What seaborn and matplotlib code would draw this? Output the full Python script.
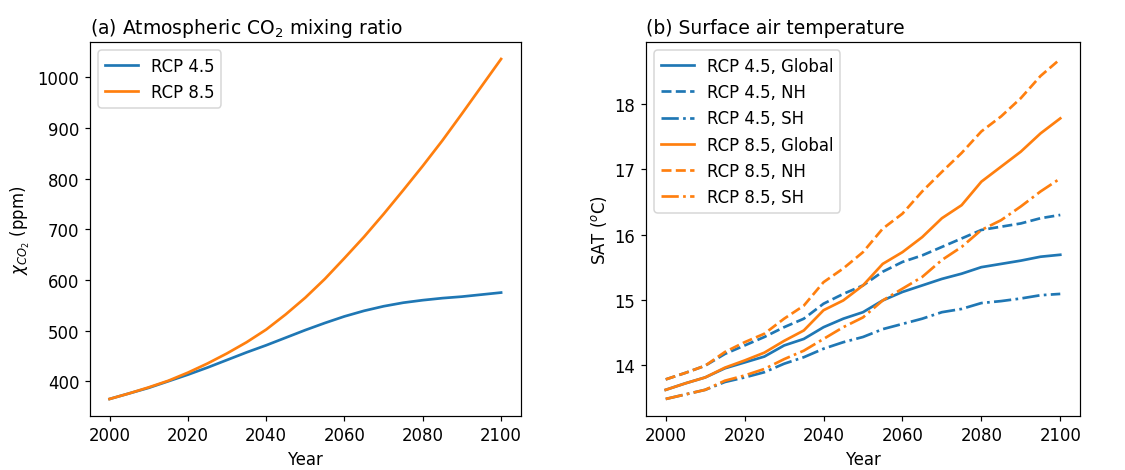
import matplotlib
matplotlib.use("Agg")
import matplotlib.pyplot as plt
import seaborn as sns

# Years sampled every 5 years
years = list(range(2000, 2101, 5))

# Atmospheric CO2 mixing ratio (ppm)
co2_rcp45 = [365, 376, 387, 400, 413, 427, 442, 457, 471, 486, 501,
             515, 528, 539, 548, 555, 560, 564, 567, 571, 575]
co2_rcp85 = [365, 376, 388, 401, 417, 435, 455, 477, 502, 532, 565,
             602, 643, 685, 730, 777, 825, 875, 928, 982, 1036]

# Surface air temperature (deg C)
sat45_global = [13.62, 13.72, 13.81, 13.95, 14.04, 14.13, 14.30, 14.40, 14.58, 14.71, 14.81,
                14.99, 15.12, 15.22, 15.32, 15.40, 15.50, 15.55, 15.60, 15.66, 15.69]
sat45_nh = [13.78, 13.88, 13.99, 14.17, 14.30, 14.43, 14.58, 14.71, 14.94, 15.09, 15.22,
            15.43, 15.58, 15.68, 15.81, 15.94, 16.07, 16.12, 16.17, 16.25, 16.30]
sat45_sh = [13.48, 13.55, 13.62, 13.74, 13.81, 13.89, 14.02, 14.12, 14.25, 14.35, 14.43,
            14.55, 14.63, 14.71, 14.81, 14.86, 14.95, 14.98, 15.02, 15.07, 15.09]
sat85_global = [13.62, 13.72, 13.81, 13.96, 14.07, 14.19, 14.37, 14.53, 14.84, 14.99, 15.22,
                15.55, 15.73, 15.96, 16.25, 16.45, 16.81, 17.04, 17.27, 17.55, 17.78]
sat85_nh = [13.78, 13.88, 13.99, 14.20, 14.35, 14.48, 14.71, 14.91, 15.27, 15.48, 15.73,
            16.09, 16.32, 16.66, 16.96, 17.25, 17.58, 17.81, 18.09, 18.43, 18.69]
sat85_sh = [13.48, 13.55, 13.62, 13.76, 13.84, 13.94, 14.09, 14.22, 14.40, 14.58, 14.73,
            14.99, 15.17, 15.35, 15.61, 15.81, 16.07, 16.22, 16.43, 16.66, 16.86]

blue = "#1f77b4"
orange = "#ff7f0e"

plt.rcParams.update({
    "font.size": 11,
    "xtick.labelsize": 11,
    "ytick.labelsize": 11,
    "axes.labelsize": 11,
    "legend.fontsize": 11,
})

fig = plt.figure(figsize=(1125 / 108, 471 / 108), dpi=108)
ax1 = fig.add_axes([0.080, 0.1147, 0.3828, 0.794])
ax2 = fig.add_axes([0.5742, 0.1147, 0.3858, 0.794])

LW = 1.8

# Panel (a): CO2
sns.lineplot(x=years, y=co2_rcp45, ax=ax1, color=blue, lw=LW, label="RCP 4.5")
sns.lineplot(x=years, y=co2_rcp85, ax=ax1, color=orange, lw=LW, label="RCP 8.5")
ax1.set_title(r"(a) Atmospheric CO$_2$ mixing ratio", loc="left", fontsize=12.5)
ax1.set_xlabel("Year")
ax1.set_ylabel(r"$\chi_{CO_2}$ (ppm)")
ax1.legend(loc="upper left")

# Panel (b): SAT
series = [
    (sat45_global, blue, "-", "RCP 4.5, Global"),
    (sat45_nh, blue, "--", "RCP 4.5, NH"),
    (sat45_sh, blue, "-.", "RCP 4.5, SH"),
    (sat85_global, orange, "-", "RCP 8.5, Global"),
    (sat85_nh, orange, "--", "RCP 8.5, NH"),
    (sat85_sh, orange, "-.", "RCP 8.5, SH"),
]
for vals, col, ls, lab in series:
    sns.lineplot(x=years, y=vals, ax=ax2, color=col, linestyle=ls, lw=LW, label=lab)
ax2.set_title("(b) Surface air temperature", loc="left", fontsize=12.5)
ax2.set_xlabel("Year")
ax2.set_ylabel(r"SAT ($^o$C)")
ax2.legend(loc="upper left")

for ax in (ax1, ax2):
    ax.set_xticks([2000, 2020, 2040, 2060, 2080, 2100])

fig.savefig("out.png", dpi=108)
